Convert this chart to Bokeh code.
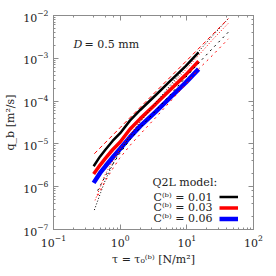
from bokeh.plotting import figure
from bokeh.models import Range1d, LogAxis, Label, Legend, LegendItem, LogTicker
from bokeh.embed import file_html
from bokeh.resources import INLINE

# ---- data ----
tau_q2l = [0.4, 0.5, 0.6, 0.77, 1.0, 1.4, 2.0, 3.4, 5.7, 9.6, 15]
q_c001 = [3.0e-6, 5.1e-6, 7.3e-6, 1.17e-5, 1.78e-5, 3.5e-5, 6.2e-5, 1.37e-4, 3.0e-4, 6.6e-4, 1.37e-3]
q_c003 = [1.97e-6, 3.2e-6, 4.6e-6, 7.3e-6, 1.11e-5, 2.2e-5, 3.9e-5, 8.5e-5, 1.87e-4, 4.1e-4, 8.5e-4]
q_c006 = [1.23e-6, 2.1e-6, 3.0e-6, 4.8e-6, 7.7e-6, 1.44e-5, 2.6e-5, 5.6e-5, 1.23e-4, 2.7e-4, 5.6e-4]

tau_ref_a = [0.41, 0.51, 0.6, 0.77, 0.98, 1.43, 2.0, 3.4, 5.7, 9.5, 15, 25, 42]
q_ref_a = [2.85e-7, 7.3e-7, 1.44e-6, 3.3e-6, 6.6e-6, 1.6e-5, 3.3e-5, 9.0e-5, 2.4e-4, 6.2e-4, 1.44e-3, 3.5e-3, 8.5e-3]

tau_ref_b = [0.46, 0.6, 0.77, 0.98, 1.43, 2.0, 3.4, 5.7, 9.5, 15, 25, 42]
q_ref_b = [8.1e-7, 1.78e-6, 3.3e-6, 5.9e-6, 1.3e-5, 2.4e-5, 5.9e-5, 1.44e-4, 3.5e-4, 7.7e-4, 1.78e-3, 4.1e-3]

tau_ref_c = [0.42, 0.6, 0.77, 0.98, 1.43, 2.0, 3.4, 5.7, 9.5, 15, 25, 42]
q_ref_c = [4.8e-7, 1.97e-6, 3.9e-6, 7.3e-6, 1.69e-5, 3.3e-5, 8.5e-5, 2.2e-4, 5.3e-4, 1.17e-3, 2.85e-3, 6.6e-3]

tau_ref_d = [0.46, 0.6, 0.77, 0.98, 1.43, 2.0, 3.4, 5.7, 9.5, 15, 25, 42]
q_ref_d = [6.2e-7, 1.37e-6, 2.6e-6, 4.6e-6, 9.5e-6, 1.69e-5, 4.1e-5, 1.0e-4, 2.4e-4, 5.6e-4, 1.23e-3, 2.85e-3]

tau_ref_e = [0.41, 1.0, 3.0, 10.0, 42]
q_ref_e = [5.9e-6, 2.4e-5, 1.35e-4, 8.9e-4, 8.5e-3]

legend_labels = ["C⁽ᵇ⁾ = 0.01", "C⁽ᵇ⁾ = 0.03", "C⁽ᵇ⁾ = 0.06"]

SERIF = "DejaVu Serif"
GRAY = "#8c8c8c"
TXT = "#222222"

p = figure(width=268, height=268, x_axis_type="log", y_axis_type="log",
           x_range=Range1d(0.1, 100), y_range=Range1d(1e-7, 1e-2),
           output_backend="svg", toolbar_location=None,
           min_border_left=53, min_border_right=15, min_border_top=15, min_border_bottom=33)
p.grid.visible = False
p.outline_line_color = GRAY
p.background_fill_color = "white"
p.border_fill_color = "white"

for ax in (p.xaxis[0], p.yaxis[0]):
    ax.axis_line_color = GRAY
    ax.major_tick_line_color = GRAY
    ax.minor_tick_line_color = GRAY
    ax.major_tick_in = 5
    ax.major_tick_out = 0
    ax.minor_tick_in = 2
    ax.minor_tick_out = 0
    ax.major_label_text_font = SERIF
    ax.major_label_text_font_size = "11px"
    ax.major_label_text_color = TXT
    ax.axis_label_text_font = SERIF
    ax.axis_label_text_font_size = "11px"
    ax.axis_label_text_font_style = "normal"
    ax.axis_label_text_color = TXT
p.xaxis[0].major_label_standoff = 5
p.yaxis[0].major_label_standoff = 5
p.xaxis[0].axis_label = "τ = τ₀⁽ᵇ⁾ [N/m²]"
p.yaxis[0].axis_label = "q_b [m²/s]"
p.xaxis[0].axis_label_standoff = 3
p.yaxis[0].axis_label_standoff = 3

for loc in ("above", "right"):
    ax = LogAxis(ticker=LogTicker())
    ax.axis_line_color = GRAY
    ax.major_tick_line_color = GRAY
    ax.minor_tick_line_color = GRAY
    ax.major_tick_in = 5
    ax.major_tick_out = 0
    ax.minor_tick_in = 2
    ax.minor_tick_out = 0
    ax.major_label_text_font_size = "1px"
    ax.major_label_text_color = None
    ax.major_label_standoff = 0
    p.add_layout(ax, loc)

r1 = p.line(tau_q2l, q_c001, line_color="black", line_width=2.5)
r2 = p.line(tau_q2l, q_c003, line_color="red", line_width=3.5)
r3 = p.line(tau_q2l, q_c006, line_color="blue", line_width=4.5)

p.line(tau_ref_a, q_ref_a, line_color="black", line_width=1, line_dash="1 2")
p.line(tau_ref_b, q_ref_b, line_color="black", line_width=1, line_dash="2 4")
p.line(tau_ref_c, q_ref_c, line_color="red", line_width=1, line_dash="1 2")
p.line(tau_ref_d, q_ref_d, line_color="red", line_width=1, line_dash="2 4")
p.line(tau_ref_e, q_ref_e, line_color="red", line_width=1, line_dash="4 3")

# legend samples (glyphs only, on the right of text labels)
leg = Legend(items=[LegendItem(label=" ", renderers=[r1]),
                    LegendItem(label=" ", renderers=[r2]),
                    LegendItem(label=" ", renderers=[r3])],
             location=(166, 5), glyph_width=19, glyph_height=11, label_height=11,
             label_width=0, label_standoff=0, spacing=0, padding=0, margin=0,
             border_line_color=None, background_fill_alpha=0,
             label_text_font_size="10px")
p.add_layout(leg, "center")

p.add_layout(Label(x=3.05, y=1.23e-6, text="Q2L model:", text_font=SERIF,
                   text_font_size="11px", text_baseline="middle", text_align="left",
                   text_color=TXT))
for lab, yy in zip(legend_labels, [5.6e-7, 3.2e-7, 1.78e-7]):
    p.add_layout(Label(x=24.2, y=yy, text=lab, text_font=SERIF, text_font_size="11px",
                       text_baseline="middle", text_align="right", text_color=TXT))

p.add_layout(Label(x=0.2, y=2.1e-3, text="D", text_font=SERIF, text_font_size="11px",
                   text_font_style="italic", text_baseline="middle", text_color=TXT))
p.add_layout(Label(x=0.2, y=2.1e-3, x_offset=11, text="= 0.5 mm", text_font=SERIF,
                   text_font_size="11px", text_baseline="middle", text_color=TXT))

open("out.html", "w").write(file_html(p, INLINE))
